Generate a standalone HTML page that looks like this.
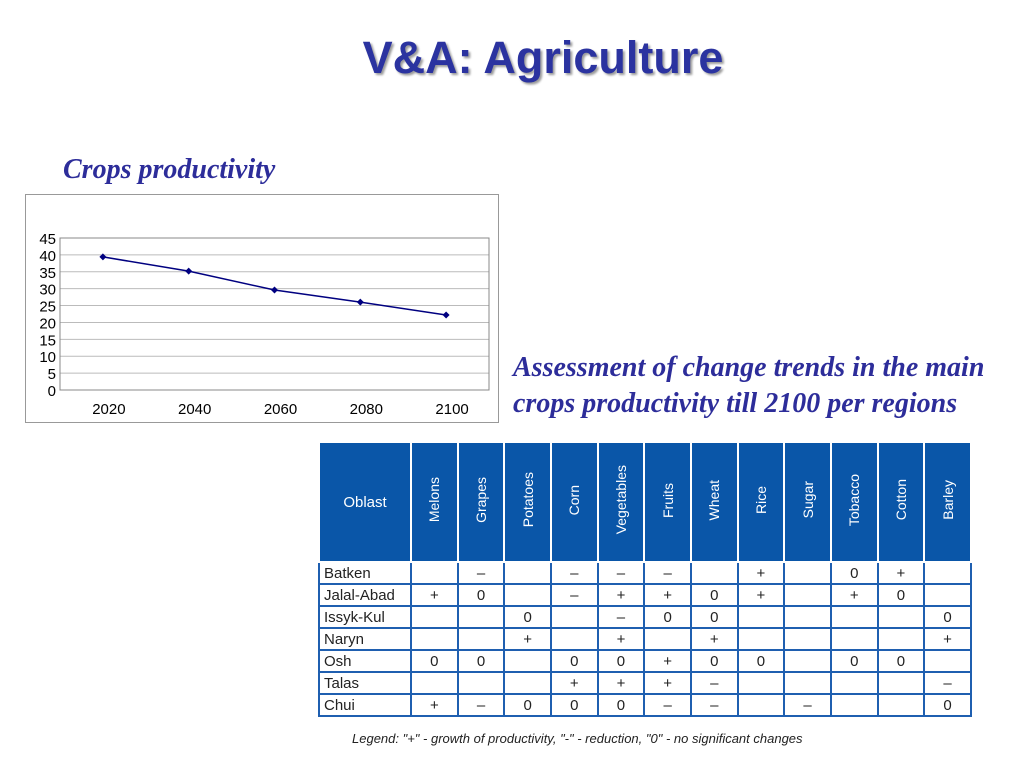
<!DOCTYPE html>
<html><head><meta charset="utf-8"><style>
body{margin:0;width:1024px;height:768px;background:#fff;position:relative;overflow:hidden;font-family:"Liberation Sans",sans-serif}
.abs{position:absolute}
#title{left:0;width:1086px;top:32px;text-align:center;font-size:45px;font-weight:bold;color:#2b33a0;text-shadow:2px 2px 2px #9a9a9a}
.it{font-family:"Liberation Serif",serif;font-style:italic;font-weight:bold;color:#2d2d9a;font-size:28px}
table{border-collapse:collapse;position:absolute;left:318px;top:443px;table-layout:fixed;width:652px}
td,th{border:2px solid #1f5fb0;text-align:center;font-size:15px;padding:0;height:20px;color:#222;overflow:hidden}
th{background:#0a56a8;color:#fff;font-weight:normal;border-color:#fff;border-top:none;height:118px}
th .v{display:inline-block;writing-mode:vertical-rl;transform:rotate(180deg);white-space:nowrap;font-size:14px}
td.n{text-align:left;padding-left:4px}
</style></head><body>
<div id="title" class="abs">V&amp;A: Agriculture</div>
<div class="abs it" style="left:63px;top:154px">Crops productivity</div>
<div class="abs it" style="left:513px;top:350px;line-height:36px">Assessment of change trends in the main<br>crops productivity till 2100 per regions</div>
<svg class="abs" style="left:0;top:0" width="1024" height="440">
<rect x="25.5" y="194.5" width="473" height="228" fill="#fff" stroke="#999"/>
<g id="g"></g></svg>
<script>
const years=["2020","2040","2060","2080","2100"];
const values=[39.4,35.2,29.6,26.0,22.2];
const yTicks=[0,5,10,15,20,25,30,35,40,45];
const NS="http://www.w3.org/2000/svg",g=document.getElementById('g');
const x0=60,x1=489,y0=390,y1=238,bw=(x1-x0)/years.length;
const xs=i=>x0+bw*(i+.5), ys=v=>y0-(v/45)*(y0-y1);
function mk(t,a){const e=document.createElementNS(NS,t);for(const k in a)e.setAttribute(k,a[k]);g.appendChild(e);return e;}
yTicks.forEach(t=>{const l=mk('line',{x1:x0,x2:x1,y1:ys(t),y2:ys(t),stroke:t==0?'#888':'#bbb'});


const tx=mk('text',{x:56,y:ys(t)+6,'text-anchor':'end','font-size':15,fill:'#000'});tx.textContent=t;

});
mk('rect',{x:x0,y:y1,width:x1-x0,height:y0-y1,fill:'none',stroke:'#888'});
years.forEach((y,i)=>{const tx=mk('text',{x:xs(i)+6,y:414,'text-anchor':'middle','font-size':15,fill:'#000'});tx.textContent=y;

});
const p=mk('polyline',{points:values.map((v,i)=>xs(i)+','+ys(v)).join(' '),fill:'none',stroke:'#000080','stroke-width':1.5});


values.forEach((v,i)=>{const d=mk('path',{d:`M${xs(i)},${ys(v)-3.5}l3.5,3.5l-3.5,3.5l-3.5,-3.5z`,fill:'#000080'});

});
</script>
<table>
<colgroup><col style="width:92px"><col span="12" style="width:46.67px"></colgroup>
<tr><th style="font-size:15px">Oblast</th>
<th><span class="v">Melons</span></th><th><span class="v">Grapes</span></th><th><span class="v">Potatoes</span></th><th><span class="v">Corn</span></th><th><span class="v">Vegetables</span></th><th><span class="v">Fruits</span></th><th><span class="v">Wheat</span></th><th><span class="v">Rice</span></th><th><span class="v">Sugar</span></th><th><span class="v">Tobacco</span></th><th><span class="v">Cotton</span></th><th><span class="v">Barley</span></th></tr>
<tr><td class="n">Batken</td><td></td><td>–</td><td></td><td>–</td><td>–</td><td>–</td><td></td><td>+</td><td></td><td>0</td><td>+</td><td></td></tr>
<tr><td class="n">Jalal-Abad</td><td>+</td><td>0</td><td></td><td>–</td><td>+</td><td>+</td><td>0</td><td>+</td><td></td><td>+</td><td>0</td><td></td></tr>
<tr><td class="n">Issyk-Kul</td><td></td><td></td><td>0</td><td></td><td>–</td><td>0</td><td>0</td><td></td><td></td><td></td><td></td><td>0</td></tr>
<tr><td class="n">Naryn</td><td></td><td></td><td>+</td><td></td><td>+</td><td></td><td>+</td><td></td><td></td><td></td><td></td><td>+</td></tr>
<tr><td class="n">Osh</td><td>0</td><td>0</td><td></td><td>0</td><td>0</td><td>+</td><td>0</td><td>0</td><td></td><td>0</td><td>0</td><td></td></tr>
<tr><td class="n">Talas</td><td></td><td></td><td></td><td>+</td><td>+</td><td>+</td><td>–</td><td></td><td></td><td></td><td></td><td>–</td></tr>
<tr><td class="n">Chui</td><td>+</td><td>–</td><td>0</td><td>0</td><td>0</td><td>–</td><td>–</td><td></td><td>–</td><td></td><td></td><td>0</td></tr>
</table>
<div class="abs" style="left:352px;top:731px;font-size:13px;font-style:italic;color:#222">Legend: "+" - growth of productivity, "-" - reduction, "0" - no significant changes</div>
</body></html>
